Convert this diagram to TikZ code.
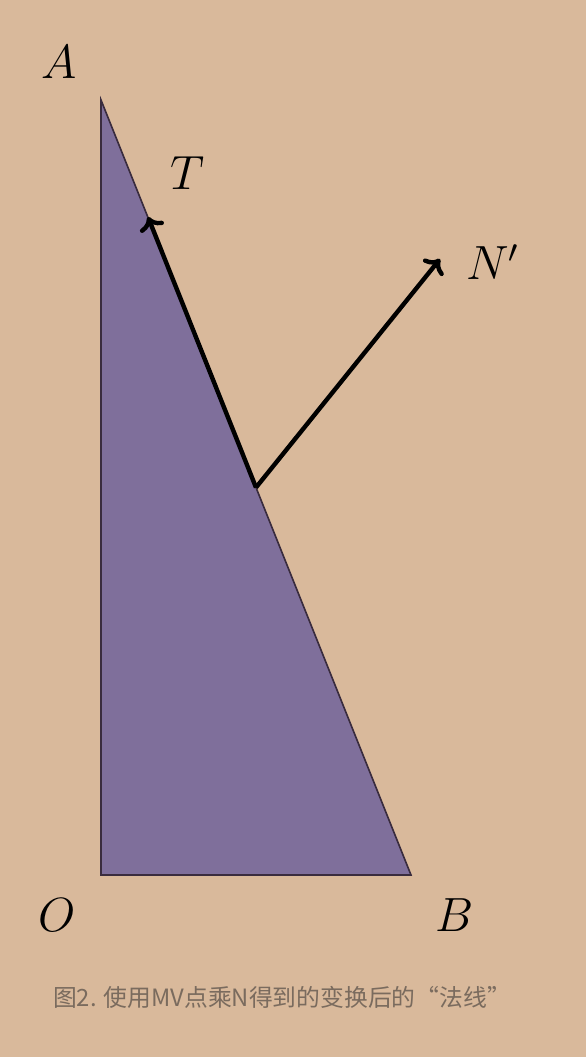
\documentclass[tikz,border=0pt]{standalone}
\usepackage{fontspec}
\newfontfamily\cjk{Noto Sans CJK SC}
\definecolor{paperbg}{HTML}{D9B99B}
\definecolor{trifill}{HTML}{7F6F9B}
\definecolor{triedge}{HTML}{3A2C3E}
\definecolor{capgray}{HTML}{7A6B5E}
\usetikzlibrary{arrows.meta, calc}
\tikzset{
	tri/.style={fill=trifill, draw=triedge, line width=0.4pt},
	vec/.style={-{To[length=3.2pt, width=6.4pt]}, line width=1.1pt, draw=black},
	lbl/.style={font=\fontsize{12}{13}\selectfont, inner sep=0pt},
	caption/.style={font=\cjk\fontsize{5.95}{7}\selectfont, text=capgray, inner sep=0pt}
}

\begin{document}
\begin{tikzpicture}[x=0.25pt, y=-0.25pt]
	\fill[paperbg] (0,0) rectangle (586,1057);
	\useasboundingbox (0,0) rectangle (586,1057);
	% triangle
	\coordinate (O) at (101,875);
	\coordinate (A) at (101,100);
	\coordinate (B) at (411,875);
	\coordinate (M) at ($(A)!0.5!(B)$);
	\coordinate (Ttip) at (148,217);
	\coordinate (Ntip) at (440,259);
	\draw[tri] (O) -- (A) -- (B) -- cycle;
	% vectors
	\draw[vec] (M) -- (Ttip);
	\draw[vec] (M) -- (Ntip);
	% labels
	\node[lbl] (labA) at (59,62) {$A$};
	\node[lbl] (labT) at (188,173) {$T$};
	\node[lbl] (labN) at (493,262) {$N'$};
	\node[lbl] (labO) at (57,915) {$O$};
	\node[lbl] (labB) at (455,915) {$B$};
	\node[caption] (cap) at (282,997) {图2. 使用MV点乘N得到的变换后的“法线”};
\end{tikzpicture}
\end{document}
